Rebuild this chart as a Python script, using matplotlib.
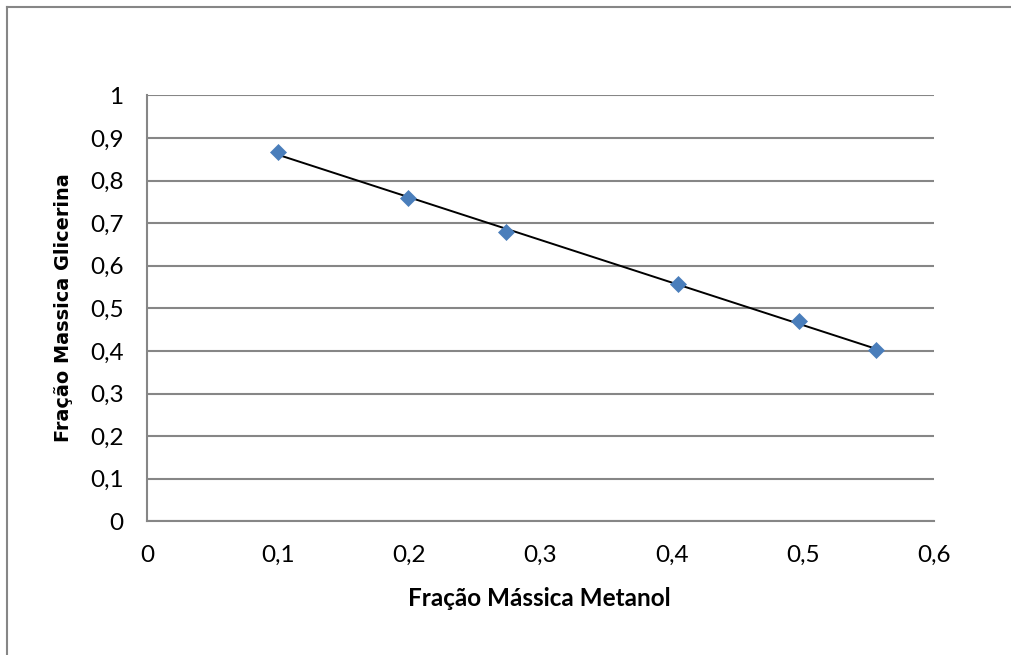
import numpy as np
import matplotlib
matplotlib.use("Agg")
import matplotlib.pyplot as plt
from matplotlib.lines import Line2D

# Mass fractions (methanol vs. glycerin)
metanol = [0.100, 0.199, 0.274, 0.405, 0.497, 0.556]
glicerina = [0.866, 0.759, 0.678, 0.557, 0.471, 0.401]

x_ticks = [0, 0.1, 0.2, 0.3, 0.4, 0.5, 0.6]
y_ticks = [0, 0.1, 0.2, 0.3, 0.4, 0.5, 0.6, 0.7, 0.8, 0.9, 1.0]

plt.rcParams["font.family"] = ["Lato", "DejaVu Sans"]

W, H = 1012, 655
fig = plt.figure(figsize=(W / 100, H / 100), dpi=100)
ax = fig.add_axes([0.1453, 0.2041, 0.9229 - 0.1453, 0.8545 - 0.2041])

grid_color = "#868686"
ax.set_xlim(0, 0.6)
ax.set_ylim(0, 1)
ax.set_yticks(y_ticks)
ax.set_xticks(x_ticks)
fmt = lambda v: ("%g" % v).replace(".", ",")
ax.set_xticklabels([fmt(v) for v in x_ticks])
ax.set_yticklabels([fmt(v) for v in y_ticks])
ax.tick_params(length=0, labelsize=17.5, colors="black")
ax.tick_params(axis="y", pad=17)
ax.tick_params(axis="x", pad=17)
ax.yaxis.grid(True, color=grid_color, linewidth=1.5)
ax.set_axisbelow(True)
for s in ("top", "right"):
    ax.spines[s].set_visible(False)
for s in ("left", "bottom"):
    ax.spines[s].set_color(grid_color)
    ax.spines[s].set_linewidth(1.5)

# linear trendline across the data range
coef = np.polyfit(metanol, glicerina, 1)
xs = np.array([min(metanol), max(metanol)])
ax.plot(xs, np.polyval(coef, xs), color="black", linewidth=1.4, zorder=3)

ax.plot(metanol, glicerina, linestyle="none", marker="D", markersize=8,
        color="#4A7EBB", markeredgecolor="#4A7EBB", markeredgewidth=0.5,
        zorder=4, clip_on=False)

fig.text(539 / W, 1 - 598 / H, "Fração Mássica Metanol", fontsize=17.5,
         fontweight="bold", ha="center", va="center")
fig.text(64 / W, 1 - 308 / H, "Fração Massica Glicerina", fontsize=13.9,
         fontweight="bold", family="DejaVu Sans", rotation=90,
         ha="center", va="center")

# chart frame
fig.add_artist(Line2D([7 / W, 7 / W], [0, 1 - 7 / H], color=grid_color, linewidth=1.5))
fig.add_artist(Line2D([7 / W, 1], [1 - 7 / H, 1 - 7 / H], color=grid_color, linewidth=1.5))

fig.savefig("out.png", dpi=100, facecolor="white")
